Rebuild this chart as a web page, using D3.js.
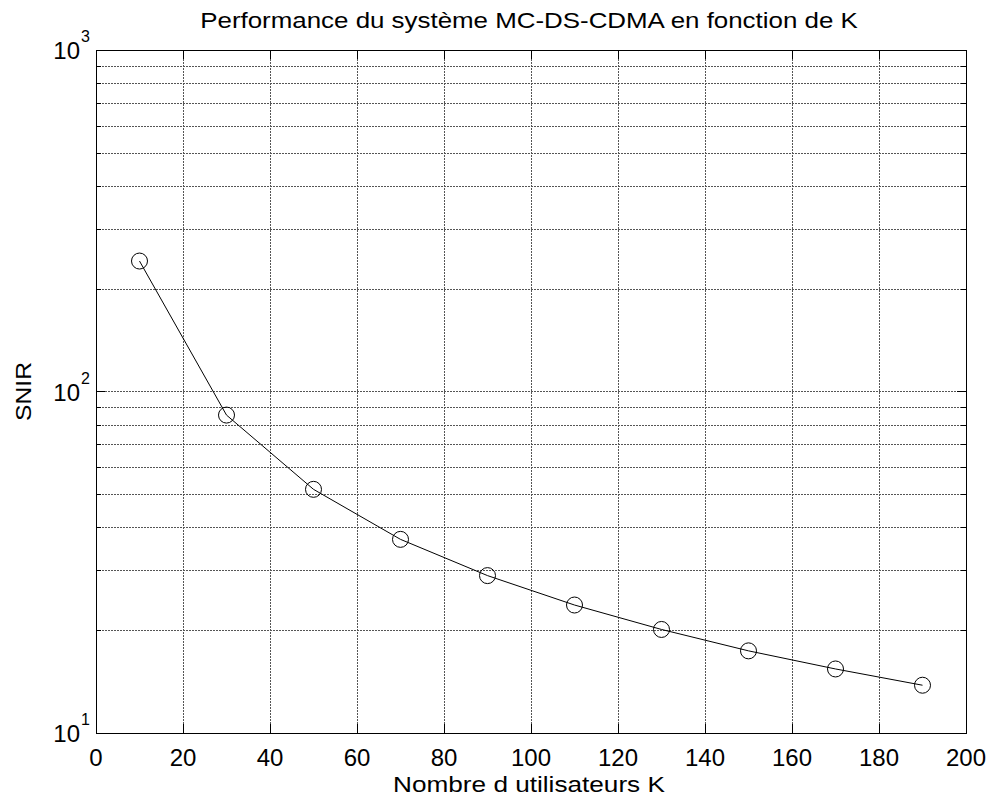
<!DOCTYPE html>
<html>
<head>
<meta charset="utf-8">
<script src="https://cdn.jsdelivr.net/npm/d3@7"></script>
<style>
  body { margin: 0; background: #fff; }
  text { font-family: "Liberation Sans", Arial, Helvetica, sans-serif; fill: #000; }
</style>
</head>
<body>
<svg id="chart" width="992" height="806"></svg>
<script>
// Number of users K and the resulting SNIR
const users = [10, 30, 50, 70, 90, 110, 130, 150, 170, 190];
const snir = [241, 85.3, 51.7, 36.9, 28.9, 23.7, 20.1, 17.4, 15.4, 13.8];

// Axis ticks
const xTicks = [0, 20, 40, 60, 80, 100, 120, 140, 160, 180, 200];
const yMajor = [10, 100, 1000];
const yMinor = [20, 30, 40, 50, 60, 70, 80, 90, 200, 300, 400, 500, 600, 700, 800, 900];

const titleText = "Performance du système MC-DS-CDMA en fonction de K";
const xLabelText = "Nombre d utilisateurs K";
const yLabelText = "SNIR";

const box = { left: 96, top: 50, right: 966, bottom: 733 };

const svg = d3.select("#chart");

const x = d3.scaleLinear().domain([0, 200]).range([box.left, box.right]);
const y = d3.scaleLog().domain([10, 1000]).range([box.bottom, box.top]);

// Grid lines (dotted)
const grid = svg.append("g")
  .attr("stroke", "#555")
  .attr("stroke-width", 1)
  .attr("stroke-dasharray", "2,1");

grid.selectAll("line.vx")
  .data(xTicks.slice(1, -1))
  .join("line")
  .attr("x1", d => Math.round(x(d)) + 0.5)
  .attr("x2", d => Math.round(x(d)) + 0.5)
  .attr("y1", box.top)
  .attr("y2", box.bottom);

grid.selectAll("line.hy")
  .data(yMajor.slice(1, -1).concat(yMinor))
  .join("line")
  .attr("x1", box.left)
  .attr("x2", box.right)
  .attr("y1", d => Math.round(y(d)) + 0.5)
  .attr("y2", d => Math.round(y(d)) + 0.5);

// Inward ticks on all four sides
const ticks = svg.append("g").attr("stroke", "#000").attr("stroke-width", 1);
const majorLen = 9, minorLen = 5;

xTicks.forEach(d => {
  const px = Math.round(x(d)) + 0.5;
  ticks.append("line").attr("x1", px).attr("x2", px).attr("y1", box.bottom).attr("y2", box.bottom - majorLen);
  ticks.append("line").attr("x1", px).attr("x2", px).attr("y1", box.top).attr("y2", box.top + majorLen);
});
yMajor.forEach(d => {
  const py = Math.round(y(d)) + 0.5;
  ticks.append("line").attr("x1", box.left).attr("x2", box.left + majorLen).attr("y1", py).attr("y2", py);
  ticks.append("line").attr("x1", box.right).attr("x2", box.right - majorLen).attr("y1", py).attr("y2", py);
});
yMinor.forEach(d => {
  const py = Math.round(y(d)) + 0.5;
  ticks.append("line").attr("x1", box.left).attr("x2", box.left + minorLen).attr("y1", py).attr("y2", py);
  ticks.append("line").attr("x1", box.right).attr("x2", box.right - minorLen).attr("y1", py).attr("y2", py);
});

// Axes box
svg.append("rect")
  .attr("x", box.left + 0.5)
  .attr("y", box.top + 0.5)
  .attr("width", box.right - box.left)
  .attr("height", box.bottom - box.top)
  .attr("fill", "none")
  .attr("stroke", "#000")
  .attr("stroke-width", 1);

// X tick labels
svg.append("g").selectAll("text")
  .data(xTicks)
  .join("text")
  .attr("x", d => x(d))
  .attr("y", 766)
  .attr("text-anchor", "middle")
  .attr("font-size", 24)
  .text(d => d);

// Y tick labels as 10 with superscript exponent
const yl = svg.append("g").selectAll("g")
  .data(yMajor)
  .join("g")
  .attr("transform", d => `translate(0,${y(d)})`);
yl.append("text")
  .attr("x", 80)
  .attr("y", 9)
  .attr("text-anchor", "end")
  .attr("font-size", 24)
  .text("10");
yl.append("text")
  .attr("x", 81)
  .attr("y", -8)
  .attr("font-size", 16)
  .text(d => Math.round(Math.log10(d)));

// Data line and circle markers
const line = d3.line().x((d, i) => x(users[i])).y(d => y(d));
svg.append("path")
  .datum(snir)
  .attr("d", line)
  .attr("fill", "none")
  .attr("stroke", "#000")
  .attr("stroke-width", 1);

svg.append("g").selectAll("circle")
  .data(snir)
  .join("circle")
  .attr("cx", (d, i) => x(users[i]))
  .attr("cy", d => y(d))
  .attr("r", 8)
  .attr("fill", "none")
  .attr("stroke", "#000")
  .attr("stroke-width", 1);

// Wide-set label: text centred at (cx, cy), stretched horizontally to the given width
function wideLabel(str, cx, cy, width, size, angle) {
  const g = svg.append("g");
  const t = g.append("text")
    .attr("text-anchor", "middle")
    .attr("font-size", size)
    .text(str);
  const w = t.node().getComputedTextLength();
  g.attr("transform", `translate(${cx},${cy}) rotate(${angle}) scale(${width / w},1)`);
  return g;
}

const midX = (box.left + box.right) / 2;
wideLabel(titleText, midX - 2, 28, 658, 22, 0);
wideLabel(xLabelText, midX - 2, 792, 272, 22, 0);
wideLabel(yLabelText, 31, (box.top + box.bottom) / 2, 59, 22, -90);
</script>
</body>
</html>
